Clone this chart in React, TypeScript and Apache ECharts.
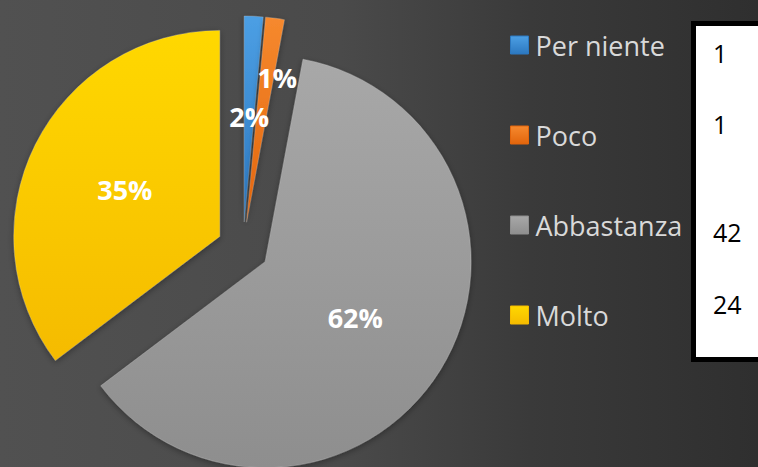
import React, { useEffect, useRef } from "react";
import * as echarts from "echarts";

const categories = ["Per niente", "Poco", "Abbastanza", "Molto"];
const values = [1, 1, 42, 24];
const tableValues = ["1", "1", "42", "24"];
const colorsTop = ["#4c9fe4", "#f6892e", "#a8a8a8", "#ffd800"];
const colorsBottom = ["#2c78c0", "#e2650c", "#8e8e8e", "#f5bb00"];
const tableRowY = [53, 124, 232, 304];

export default function App() {
  const ref = useRef<HTMLDivElement>(null);
  useEffect(() => {
    if (!ref.current) return;
    const chart = echarts.init(ref.current, undefined, { renderer: "svg" });
    const grad = (i: number) =>
      new echarts.graphic.LinearGradient(0, 0, 0, 1, [
        { offset: 0, color: colorsTop[i] },
        { offset: 1, color: colorsBottom[i] },
      ]);
    chart.setOption({
      animation: false,
      backgroundColor: new echarts.graphic.LinearGradient(0, 0, 1, 0, [
        { offset: 0, color: "#515151" },
        { offset: 0.45, color: "#4a4a4a" },
        { offset: 0.7, color: "#3a3a3a" },
        { offset: 1, color: "#2f2f2f" },
      ]),
      legend: {
        orient: "vertical",
        left: 505,
        top: 25,
        itemWidth: 18,
        itemHeight: 18,
        itemGap: 60,
        selectedMode: false,
        icon: "rect",
        textStyle: {
          color: "#d9d9d9",
          fontFamily: "Open Sans",
          fontSize: 27,
          lineHeight: 30,
          padding: [0, 0, 0, 2],
        },
        data: categories.map((c, i) => ({
          name: c,
          itemStyle: { color: grad(i), borderColor: colorsBottom[i], borderWidth: 1 },
        })),
      },
      series: [
        {
          type: "pie",
          center: [243, 248],
          radius: 206,
          startAngle: 90,
          clockwise: true,
          selectedMode: "multiple",
          selectedOffset: 26,
          percentPrecision: 0,
          avoidLabelOverlap: false,
          label: {
            show: true,
            position: "inside",
            formatter: "{d}%",
            color: "#ffffff",
            fontFamily: "Open Sans",
            fontWeight: "bold",
            fontSize: 27,
          },
          labelLine: { show: false },
          labelLayout: (p: any) => (p.dataIndex === 1 ? { dx: 16, dy: -40 } : {}),
          emphasis: { disabled: true },
          itemStyle: {
            borderColor: "rgba(255,255,255,0.18)",
            borderWidth: 1,
            shadowColor: "rgba(0,0,0,0.35)",
            shadowBlur: 6,
            shadowOffsetY: 2,
          },
          data: categories.map((c, i) => ({
            name: c,
            value: values[i],
            selected: true,
            itemStyle: { color: grad(i) },
          })),
        },
      ],
      graphic: [
        {
          type: "rect",
          shape: { x: 693.5, y: 23.5, width: 90, height: 336 },
          style: { fill: "#ffffff", stroke: "#000000", lineWidth: 5 },
          z: 10,
        },
        ...tableValues.map((t, i) => ({
          type: "text",
          x: 713,
          y: tableRowY[i],
          z: 11,
          style: {
            text: t,
            fill: "#000000",
            fontFamily: "Open Sans",
            fontSize: 25,
            verticalAlign: "middle",
            align: "left",
          },
        })),
      ],
    });
    return () => chart.dispose();
  }, []);
  return (
    <div
      ref={ref}
      style={{ position: "absolute", left: 0, top: 0, width: 758, height: 467 }}
    />
  );
}
